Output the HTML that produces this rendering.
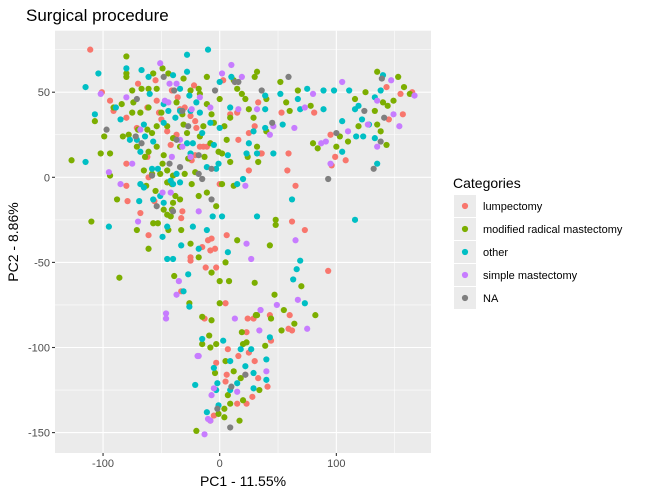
<!DOCTYPE html>
<html><head><meta charset="utf-8"><style>
body{margin:0;background:#fff;font-family:"Liberation Sans",sans-serif;}
svg text{font-family:"Liberation Sans",sans-serif;}
</style></head><body>
<svg id="chart" width="647" height="496"></svg>
<script>
const categories=["lumpectomy","modified radical mastectomy","other","simple mastectomy","NA"];
const colors=["#F8766D","#7CAE00","#00BFC4","#C77CFF","#7F7F7F"];
const xTicks=[-100,0,100];
const yTicks=[50,0,-50,-100,-150];
const xMinor=[-50,50,150];
const yMinor=[75,25,-25,-75,-125];
const lumpX=[143,155,157,145,165,95,99,108,96,81,53,65,62,73,93,60,59,62,7,16,25,30,22,6,-3,5,33,41,28,23,15,-8,-5,24,29,43,44,23,-13,5,-10,-7,-4,-15,-12,-3,-25,-25,-33,-33,6,-32,-56,-111,-101,-94,-91,-80,-71,-70,-62,-54,-55,-52,-50,-42,-41,-36,-30,-25,-22,-21,-17,-14,-11,-21,-24,-37,-45,-62,-61,-80,-80,-79,-68,-61,-8,0,3,13,15,16,25,30,33,36,35,25,9,58,59,-20,-34];
const lumpY=[53,49,37,34,50,25,12,10,7,38,38,-5,-26,-31,-55,-81,-89,-90,-101,-105,-103,-108,-116,-116,-109,-120,-118,-123,-129,-133,-133,-143,-140,-83,-83,-81,-96,-91,-83,-74,-37,-36,-42,-41,-53,-53,-49,-47,-67,-24,-34,-20,-14,75,50,45,39,35,29,55,41,45,57,38,34,19,51,47,41,36,54,33,18,18,18,13,10,25,27,12,0,-5,8,-14,-21,-34,-43,-4,57,56,38,22,26,30,44,14,14,4,37,4,14,29,40,47];
const mrmX=[135,153,158,125,116,133,140,149,144,135,138,143,119,110,103,100,80,84,52,67,57,60,78,163,48,48,43,70,47,55,82,64,53,15,30,32,-15,-7,-9,-15,-8,-3,19,23,20,39,44,31,5,-4,12,18,34,7,9,4,4,17,-20,-1,20,-7,0,8,0,5,-26,-18,-25,-33,-39,-61,-86,-110,-88,-71,-127,-102,-99,-107,-94,-94,-91,-83,-80,-80,-80,-75,-78,-71,-67,-61,-57,-49,-44,-54,-61,-50,-58,-64,-54,-48,-51,-58,-65,-63,-55,-45,-41,-48,-45,-42,-41,-40,-57,-53,-44,-34,-38,-24,-18,-11,-3,2,12,9,-1,-13,-17,-8,-14,-7,-11,-17,-18,-28,-32,-34,-27,-31,-37,12,15,22,25,32,33,24,19,30,32,40,40,29,9,6,2,0,4,-21,-30,-40,-45,-49,-45,-40,-54,-62,-68,-74,-84,-75,-70,-61,-31,-25,-11,-5];
const mrmY=[62,59,53,50,46,39,44,45,42,31,27,19,30,21,24,18,20,17,56,51,44,39,42,49,-25,-28,-40,-64,-69,-78,-81,-86,-90,-37,-62,-81,-82,-84,-93,-98,-100,-98,-91,-97,-98,-99,-83,-81,-108,-115,-114,-118,-125,-128,-133,-136,-141,-143,-149,-139,-131,-56,-61,-61,-74,-50,-74,-47,-39,-31,-58,-42,-59,-26,-13,-31,10,14,24,33,14,1,41,24,71,59,61,38,25,18,52,52,61,64,61,52,41,38,26,12,18,13,2,2,4,-5,-8,-3,-4,-19,-22,-23,-19,-15,-27,-27,-31,-13,-11,-4,-11,-9,-17,-4,-5,9,15,12,24,20,30,37,43,49,52,26,37,18,11,31,44,57,52,46,40,18,9,12,49,59,62,46,27,35,35,22,14,46,30,3,2,1,4,8,30,23,30,28,38,44,43,51,28,15,58,51,59,32];
const otherX=[140,138,133,111,98,89,75,89,105,116,119,122,128,133,117,123,135,105,116,67,69,62,69,66,63,73,32,3,-21,-5,9,18,27,22,29,40,40,15,9,29,-2,-3,-11,-1,43,-15,-18,-11,-6,7,-23,-27,-31,-26,-33,-40,-45,-115,-104,-107,-115,-95,-89,-85,-80,-67,-61,-48,-40,-34,-28,-28,-10,-26,-20,0,10,9,0,-5,-1,7,20,15,23,25,32,29,39,39,46,54,52,39,-68,-69,-65,-57,-48,-51,-37,-34,-42,-40,-58,-53,-64,-71,-77,-57,-48,-38,-28,-23,-25,-15,-11,-3,-60,-65,-68,-44,-34,-25,-17,-8,2,-45,-49];
const otherY=[60,51,47,51,51,51,52,40,33,40,42,34,31,23,24,24,8,15,-25,46,40,-13,-49,-54,-60,-74,-23,-96,-122,-112,-108,-101,-101,-111,-115,-107,-119,-121,-125,-124,-121,-125,-138,-134,-94,-95,-42,-31,-23,-44,-29,-57,-67,-76,-40,-48,-48,53,61,37,9,-29,41,34,64,63,59,43,60,52,62,72,75,48,44,56,59,41,29,19,8,13,-1,-4,14,20,14,27,29,40,14,31,49,48,-4,-14,-6,-13,-15,-11,2,-3,-2,-4,5,5,24,22,22,21,32,35,20,20,14,26,6,5,49,31,15,39,39,39,38,32,-23,-29,-35];
const simpleX=[147,149,154,135,127,110,87,91,95,105,80,73,64,167,135,65,67,75,23,27,49,35,13,35,34,15,-5,-7,-10,-8,-13,-18,40,-35,-37,-46,-46,-19,-18,-102,-95,-85,-75,-80,-68,-51,-47,-44,-43,-37,-34,-24,-17,-8,2,10,19,16,32,46,43,22,-70,-49,-42,-25,-41,-32];
const simpleY=[57,37,30,45,31,27,20,21,8,56,49,41,29,48,18,-37,-72,-89,-39,-48,-75,-78,-83,-78,-90,-126,-124,-128,-142,-143,-151,-105,-114,-61,-69,-80,-83,-105,-20,49,3,-4,8,47,28,67,45,44,55,55,22,40,47,41,61,66,59,40,40,30,25,-5,-26,-9,-9,12,12,18];
const naX=[139,141,138,132,124,100,93,59,45,36,10,9,-2,22,-97,-71,-48,-39,-32,-72,-67,-37,-43,-18,-18,-15,-7,-7,-54,-40,-4,13,16,-27,-34,-58];
const naY=[58,35,21,5,39,26,-1,59,32,51,-123,-147,-136,-116,28,46,59,51,39,24,20,22,8,13,2,-1,5,-13,-17,-20,51,56,56,30,6,1];
const seriesX=[lumpX,mrmX,otherX,simpleX,naX];
const seriesY=[lumpY,mrmY,otherY,simpleY,naY];

const NS="http://www.w3.org/2000/svg";
const svg=document.getElementById('chart');
const P={l:55,r:431,t:30.7,b:453};
const xs=v=>219.7+v*1.1665;
const ys=v=>177.3-v*1.702;
function mk(tag,attrs,parent){const e=document.createElementNS(NS,tag);for(const k in attrs)e.setAttribute(k,attrs[k]);(parent||svg).appendChild(e);return e;}
const title=mk('text',{x:26,y:21,'font-size':17,fill:'#000'});title.textContent='Surgical procedure';


const panel=mk('rect',{x:P.l,y:P.t,width:P.r-P.l,height:P.b-P.t,fill:'#EBEBEB'});


xMinor.forEach(v=>{const g=mk('line',{x1:xs(v),x2:xs(v),y1:P.t,y2:P.b,stroke:'#fff','stroke-width':0.55});});
yMinor.forEach(v=>{const g=mk('line',{x1:P.l,x2:P.r,y1:ys(v),y2:ys(v),stroke:'#fff','stroke-width':0.55});});
xTicks.forEach(v=>{const g=mk('line',{x1:xs(v),x2:xs(v),y1:P.t,y2:P.b,stroke:'#fff','stroke-width':1.1});
 const t=mk('line',{x1:xs(v),x2:xs(v),y1:P.b,y2:P.b+3,stroke:'#333','stroke-width':1.1});
 const l=mk('text',{x:xs(v),y:P.b+14,'font-size':11,fill:'#4D4D4D','text-anchor':'middle'});l.textContent=v;});
yTicks.forEach(v=>{const g=mk('line',{x1:P.l,x2:P.r,y1:ys(v),y2:ys(v),stroke:'#fff','stroke-width':1.1});
 const t=mk('line',{x1:P.l-3,x2:P.l,y1:ys(v),y2:ys(v),stroke:'#333','stroke-width':1.1});
 const l=mk('text',{x:P.l-5,y:ys(v)+4,'font-size':11,fill:'#4D4D4D','text-anchor':'end'});l.textContent=v;});
seriesX.forEach((arr,ci)=>{arr.forEach((x,i)=>{const c=mk('circle',{cx:xs(x),cy:ys(seriesY[ci][i]),r:3.1,fill:colors[ci]});
 
 });});
const xt=mk('text',{x:243,y:486,'font-size':14,'text-anchor':'middle',fill:'#000'});xt.textContent='PC1 - 11.55%';


const yt=mk('text',{x:0,y:0,'font-size':14,'text-anchor':'middle',fill:'#000',transform:'translate(18,242) rotate(-90)'});yt.textContent='PC2 - 8.86%';


const lt=mk('text',{x:453,y:188,'font-size':14,fill:'#000'});lt.textContent='Categories';


categories.forEach((c,i)=>{const y0=195+i*23;
 const k=mk('rect',{x:454,y:y0,width:22,height:22,fill:'#EBEBEB'});
 const d=mk('circle',{cx:465,cy:y0+11,r:3.1,fill:colors[i]});
 const t=mk('text',{x:483,y:y0+15,'font-size':11,fill:'#000'});t.textContent=c;});
</script>
</body></html>
